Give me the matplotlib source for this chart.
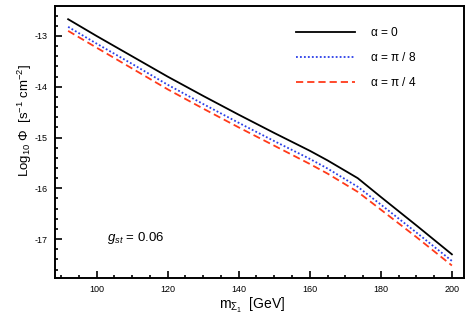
import matplotlib
matplotlib.use("Agg")
import matplotlib.pyplot as plt
from matplotlib.ticker import MultipleLocator

plt.rcParams['font.family'] = ['Liberation Sans', 'DejaVu Sans']
plt.rcParams['mathtext.fontset'] = 'custom'
plt.rcParams['mathtext.rm'] = 'Liberation Sans'
plt.rcParams['mathtext.it'] = 'Liberation Sans:italic'
plt.rcParams['axes.unicode_minus'] = False

mass = [92, 100, 110, 120, 130, 140, 150, 160, 165, 173.5, 180, 190, 200]
alpha0 = [-12.67, -13.00, -13.40, -13.80, -14.18, -14.55, -14.91, -15.26, -15.45, -15.80, -16.17, -16.73, -17.30]
alpha_pi8 = [-12.82, -13.15, -13.55, -13.96, -14.34, -14.71, -15.07, -15.42, -15.61, -15.97, -16.32, -16.87, -17.43]
alpha_pi4 = [-12.90, -13.23, -13.64, -14.05, -14.43, -14.80, -15.16, -15.52, -15.71, -16.07, -16.42, -16.96, -17.52]
labels = [r'$\mathregular{\alpha}$ = 0', r'$\mathregular{\alpha}$ = π / 8', r'$\mathregular{\alpha}$ = π / 4']

fig = plt.figure(figsize=(4.72, 3.34), dpi=100)
ax = fig.add_axes([0.1165, 0.1686, 0.983 - 0.1165, 0.982 - 0.1686])

ax.plot(mass, alpha0, color='black', lw=1.3, ls='-', label=labels[0])
ax.plot(mass, alpha_pi8, color='#2a3ee8', lw=1.3, ls=(0, (1, 1.2)), label=labels[1])
ax.plot(mass, alpha_pi4, color='#ff3a1a', lw=1.3, ls=(0, (4, 2.2)), label=labels[2])

ax.set_xlim(88.3, 203.4)
ax.set_ylim(-17.76, -12.41)
ax.xaxis.set_major_locator(MultipleLocator(20))
ax.xaxis.set_minor_locator(MultipleLocator(5))
ax.yaxis.set_major_locator(MultipleLocator(1))
ax.yaxis.set_minor_locator(MultipleLocator(0.2))
ax.tick_params(which='both', direction='in', top=False, right=False, labelsize=6.5, width=1.2)
ax.tick_params(which='major', length=5, pad=5)
ax.tick_params(which='minor', length=2.5)
for s in ax.spines.values():
    s.set_linewidth(1.4)

ax.set_xlabel(r'm$_{\Sigma_1}$  [GeV]', fontsize=10)
ax.xaxis.set_label_coords((252 - 55) / 409, (277.7 - 305) / 271.7)
ax.set_ylabel(r'Log$_{10}$ Φ  [s$^{-1}$ cm$^{-2}$]', fontsize=9.5)
ax.yaxis.set_label_coords((25 - 55) / 409, (277.7 - 120) / 271.7)
ax.xaxis.label.set_va('center')
ax.yaxis.label.set_va('center')

ax.text(103.0, -16.98, r'$\mathit{g_{st}}$ = 0.06', fontsize=9.5, va='center', ha='left')

leg = ax.legend(loc='upper right', frameon=False, fontsize=8.6, handlelength=5.0,
                handletextpad=1.2, labelspacing=1.0, bbox_to_anchor=(0.91, 0.965))

fig.savefig('out.png', dpi=100)
